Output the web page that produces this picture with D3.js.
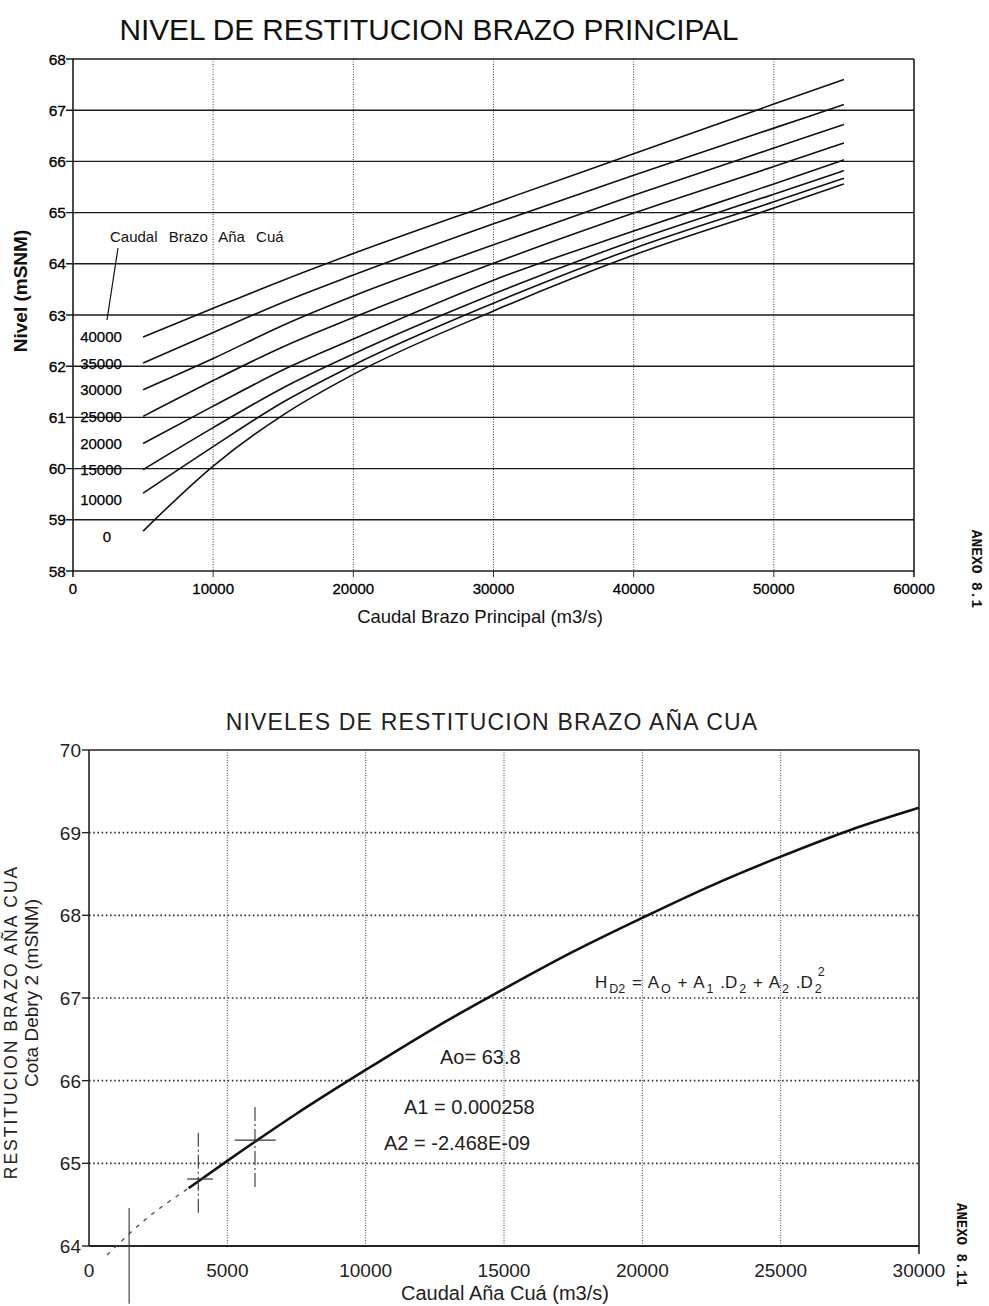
<!DOCTYPE html>
<html><head><meta charset="utf-8">
<script src="https://cdn.jsdelivr.net/npm/d3@7"></script>
<style>body{margin:0;background:#fff}svg{display:block;font-family:"Liberation Sans",Arial,sans-serif}</style>
</head><body>
<script>
// ---------- TOP CHART DATA ----------
const topTitle = "NIVEL DE RESTITUCION BRAZO PRINCIPAL";
const topXTicks = [0, 10000, 20000, 30000, 40000, 50000, 60000];
const topYTicks = [58, 59, 60, 61, 62, 63, 64, 65, 66, 67, 68];
const caudalAnaCua = [40000, 35000, 30000, 25000, 20000, 15000, 10000, 0];
const caudalPrincipal = [5000, 10000, 15000, 20000, 30000, 40000, 50000, 55000];
const nivel40000 = [62.57, 63.13, 63.68, 64.20, 65.18, 66.15, 67.12, 67.60];
const nivel35000 = [62.06, 62.66, 63.25, 63.78, 64.78, 65.73, 66.65, 67.11];
const nivel30000 = [61.54, 62.15, 62.80, 63.37, 64.37, 65.34, 66.26, 66.72];
const nivel25000 = [61.02, 61.72, 62.38, 62.95, 64.01, 64.99, 65.90, 66.36];
const nivel20000 = [60.49, 61.22, 61.93, 62.53, 63.68, 64.64, 65.56, 66.03];
const nivel15000 = [59.98, 60.80, 61.58, 62.24, 63.41, 64.45, 65.36, 65.82];
const nivel10000 = [59.52, 60.43, 61.30, 62.02, 63.23, 64.30, 65.21, 65.67];
const nivel0     = [58.78, 60.05, 61.05, 61.84, 63.08, 64.17, 65.09, 65.56];

// ---------- BOTTOM CHART DATA ----------
const botTitle = "NIVELES DE RESTITUCION BRAZO AÑA CUA";
const botXTicks = [0, 5000, 10000, 15000, 20000, 25000, 30000];
const botYTicks = [64, 65, 66, 67, 68, 69, 70];
const curveQ = [3600, 5000, 7500, 10000, 12500, 15000, 17500, 20000, 22500, 25000, 27500, 30000];
const curveH = [64.70, 65.03, 65.60, 66.13, 66.64, 67.11, 67.56, 67.97, 68.36, 68.71, 69.03, 69.30];
const extrapQ = [650, 2000, 3600];
const extrapH = [63.89, 64.31, 64.70];
const obsQ   = [1450, 3950, 6000];
const obsH   = [64.00, 64.81, 65.28];
const obsQlo = [900, 3550, 5270];
const obsQhi = [2000, 4480, 6750];
const obsHlo = [63.30, 64.38, 64.71];
const obsHhi = [64.46, 65.37, 65.68];
const coefLabels = ["Ao= 63.8", "A1 = 0.000258", "A2 = -2.468E-09"];

const W = 989, H = 1306;
const svg = d3.select("body").append("svg").attr("width", W).attr("height", H);
svg.append("rect").attr("width", W).attr("height", H).attr("fill", "#fff");

// ================= TOP CHART =================
const tx = d3.scaleLinear().domain([0, 60000]).range([73, 914]);
const ty = d3.scaleLinear().domain([58, 68]).range([571, 59]);
const gT = svg.append("g");

gT.append("text").attr("x", 429).attr("y", 40).attr("text-anchor", "middle")
  .attr("font-size", 29.8).attr("fill", "#111").text(topTitle);

// vertical dotted grid
gT.selectAll(".vg").data(topXTicks.filter(d => d > 0 && d < 60000)).join("line")
  .attr("x1", d => tx(d)).attr("x2", d => tx(d)).attr("y1", ty(68)).attr("y2", ty(58))
  .attr("stroke", "#444").attr("stroke-width", 1).attr("stroke-dasharray", "1,1.5");
// horizontal solid grid
gT.selectAll(".hg").data(topYTicks).join("line")
  .attr("x1", tx(0) - 7).attr("x2", tx(60000)).attr("y1", d => ty(d)).attr("y2", d => ty(d))
  .attr("stroke", "#1a1a1a").attr("stroke-width", 1.4);
// frame
gT.append("line").attr("x1", tx(0)).attr("x2", tx(0)).attr("y1", ty(68)).attr("y2", ty(58) + 6)
  .attr("stroke", "#111").attr("stroke-width", 1.5);
gT.append("line").attr("x1", tx(60000)).attr("x2", tx(60000)).attr("y1", ty(68)).attr("y2", ty(58) + 6)
  .attr("stroke", "#111").attr("stroke-width", 1.5);
gT.selectAll(".xt").data(topXTicks.filter(d => d > 0 && d < 60000)).join("line")
  .attr("x1", d => tx(d)).attr("x2", d => tx(d)).attr("y1", ty(58)).attr("y2", ty(58) + 6)
  .attr("stroke", "#333").attr("stroke-width", 1);

// tick labels
gT.selectAll(".yl").data(topYTicks).join("text")
  .attr("x", tx(0) - 7).attr("y", d => ty(d)).attr("dy", "0.36em").attr("text-anchor", "end")
  .attr("font-size", 15.5).attr("fill", "#000").attr("stroke", "#000").attr("stroke-width", 0.3)
  .text(d => d);
gT.selectAll(".xl").data(topXTicks).join("text")
  .attr("x", d => tx(d)).attr("y", 594).attr("text-anchor", "middle")
  .attr("font-size", 15).attr("fill", "#000").attr("stroke", "#000").attr("stroke-width", 0.3)
  .text(d => d);

gT.append("text").attr("x", 480).attr("y", 623).attr("text-anchor", "middle")
  .attr("font-size", 18.5).attr("fill", "#111").text("Caudal Brazo Principal (m3/s)");
gT.append("text").attr("transform", "translate(27,291) rotate(-90)").attr("text-anchor", "middle")
  .attr("font-size", 19).attr("font-weight", "bold").attr("fill", "#111").text("Nivel (mSNM)");

// curves
const seriesTop = [nivel40000, nivel35000, nivel30000, nivel25000, nivel20000, nivel15000, nivel10000, nivel0];
const lineT = d3.line().x(d => tx(d[0])).y(d => ty(d[1])).curve(d3.curveMonotoneX);
gT.selectAll(".crv").data(seriesTop).join("path")
  .attr("d", s => lineT(caudalPrincipal.map((q, i) => [q, s[i]])))
  .attr("fill", "none").attr("stroke", "#111").attr("stroke-width", 1.6);

// series labels
gT.selectAll(".sl").data(caudalAnaCua).join("text")
  .attr("x", (d, i) => d === 0 ? 107 : 101)
  .attr("y", (d, i) => ty(seriesTop[i][0]) + (i >= 6 ? 6 : 0)).attr("dy", "0.36em")
  .attr("text-anchor", "middle").attr("font-size", 15).attr("fill", "#000")
  .attr("stroke", "#000").attr("stroke-width", 0.25).text(d => d);

gT.append("text").attr("x", 110).attr("y", 242).attr("font-size", 15).attr("word-spacing", 7)
  .attr("fill", "#111").text("Caudal Brazo Aña Cuá");
gT.append("line").attr("x1", 118).attr("y1", 248).attr("x2", 107).attr("y2", 320)
  .attr("stroke", "#111").attr("stroke-width", 1.2);

svg.append("text").attr("transform", "translate(972,569) rotate(90)").attr("text-anchor", "middle")
  .attr("font-family", "Liberation Mono, monospace").attr("font-weight", "bold")
  .attr("font-size", 14.5).attr("fill", "#111").text("ANEXO 8.1");

// ================= BOTTOM CHART =================
const bx = d3.scaleLinear().domain([0, 30000]).range([89, 919]);
const by = d3.scaleLinear().domain([64, 70]).range([1246, 750]);
const gB = svg.append("g");

gB.append("text").attr("x", 492).attr("y", 730).attr("text-anchor", "middle")
  .attr("font-size", 23).attr("letter-spacing", 1.2).attr("fill", "#222").text(botTitle);

gB.selectAll(".vg").data(botXTicks.filter(d => d > 0 && d < 30000)).join("line")
  .attr("x1", d => bx(d)).attr("x2", d => bx(d)).attr("y1", by(70)).attr("y2", by(64))
  .attr("stroke", "#444").attr("stroke-width", 1).attr("stroke-dasharray", "1,1.5");
gB.selectAll(".hg").data(botYTicks.filter(d => d > 64 && d < 70)).join("line")
  .attr("x1", bx(0)).attr("x2", bx(30000)).attr("y1", d => by(d)).attr("y2", d => by(d))
  .attr("stroke", "#333").attr("stroke-width", 1.6).attr("stroke-dasharray", "1.6,2.6");
// frame
gB.append("line").attr("x1", bx(0)).attr("x2", bx(30000)).attr("y1", by(70)).attr("y2", by(70))
  .attr("stroke", "#222").attr("stroke-width", 1.6);
gB.append("line").attr("x1", bx(0)).attr("x2", bx(30000)).attr("y1", by(64)).attr("y2", by(64))
  .attr("stroke", "#222").attr("stroke-width", 1.8);
gB.append("line").attr("x1", bx(0)).attr("x2", bx(0)).attr("y1", by(70)).attr("y2", by(64))
  .attr("stroke", "#222").attr("stroke-width", 1.6);
gB.append("line").attr("x1", bx(30000)).attr("x2", bx(30000)).attr("y1", by(70)).attr("y2", by(64) + 8)
  .attr("stroke", "#222").attr("stroke-width", 1.6);
gB.selectAll(".yt").data(botYTicks).join("line")
  .attr("x1", bx(0) - 7).attr("x2", bx(0)).attr("y1", d => by(d)).attr("y2", d => by(d))
  .attr("stroke", "#222").attr("stroke-width", 1.4);

gB.selectAll(".yl").data(botYTicks).join("text")
  .attr("x", bx(0) - 8).attr("y", d => by(d)).attr("dy", "0.36em").attr("text-anchor", "end")
  .attr("font-size", 19).attr("fill", "#222").text(d => d);
gB.selectAll(".xl").data(botXTicks).join("text")
  .attr("x", d => bx(d)).attr("y", 1277).attr("text-anchor", "middle")
  .attr("font-size", 19).attr("fill", "#222").text(d => d);

gB.append("text").attr("x", 505).attr("y", 1300).attr("text-anchor", "middle")
  .attr("font-size", 20).attr("fill", "#222").text("Caudal Aña Cuá (m3/s)");
gB.append("text").attr("transform", "translate(17,1022) rotate(-90)").attr("text-anchor", "middle")
  .attr("font-size", 17.5).attr("letter-spacing", 2).attr("fill", "#222").text("RESTITUCION  BRAZO AÑA CUA");
gB.append("text").attr("transform", "translate(38,993) rotate(-90)").attr("text-anchor", "middle")
  .attr("font-size", 19).attr("fill", "#222").text("Cota Debry 2 (mSNM)");

// curve
const lineB = d3.line().x(d => bx(d[0])).y(d => by(d[1])).curve(d3.curveMonotoneX);
gB.append("path").attr("d", lineB(extrapQ.map((q, i) => [q, extrapH[i]])))
  .attr("fill", "none").attr("stroke", "#555").attr("stroke-width", 1.4).attr("stroke-dasharray", "4,6");
gB.append("path").attr("d", lineB(curveQ.map((q, i) => [q, curveH[i]])))
  .attr("fill", "none").attr("stroke", "#111").attr("stroke-width", 2.6);

// observations with error crosses
obsQ.forEach((q, i) => {
  gB.append("line").attr("x1", bx(q)).attr("x2", bx(q)).attr("y1", by(obsHhi[i])).attr("y2", by(obsHlo[i]))
    .attr("stroke", "#333").attr("stroke-width", 1.1).attr("stroke-dasharray", i === 0 ? null : "14,3,2,3");
  gB.append("line").attr("x1", bx(obsQlo[i])).attr("x2", bx(obsQhi[i])).attr("y1", by(obsH[i])).attr("y2", by(obsH[i]))
    .attr("stroke", "#333").attr("stroke-width", 1.2);
});

// formula
const f = gB.append("text").attr("x", 593).attr("y", 988).attr("font-size", 17).attr("fill", "#222");
const parts = [["H", 0], ["D2", 1], ["  =  ", 0], ["A", 0], ["O", 1], [" + ", 0], ["A", 0], ["1", 1],
  ["  .D", 0], ["2", 1], [" + ", 0], ["A", 0], ["2", 1], [" .D", 0], ["2", 1], ["2", 2]];
let prev = 0;
parts.forEach(([t, k]) => {
  const lvl = k === 1 ? 5 : (k === 2 ? -12 : 0);
  f.append("tspan").attr("dy", lvl - prev).attr("font-size", k ? 12.5 : 17)
    .attr("dx", k === 2 ? -4 : 2).text(t);
  prev = lvl;
});

gB.selectAll(".coef").data(coefLabels).join("text")
  .attr("x", (d, i) => [440, 404, 384][i]).attr("y", (d, i) => [1064, 1114, 1150][i])
  .attr("font-size", 20).attr("fill", "#222").text(d => d);

svg.append("text").attr("transform", "translate(957,1245) rotate(90)").attr("text-anchor", "middle")
  .attr("font-family", "Liberation Mono, monospace").attr("font-weight", "bold")
  .attr("font-size", 14).attr("fill", "#111").text("ANEXO 8.11");
</script>
</body></html>
